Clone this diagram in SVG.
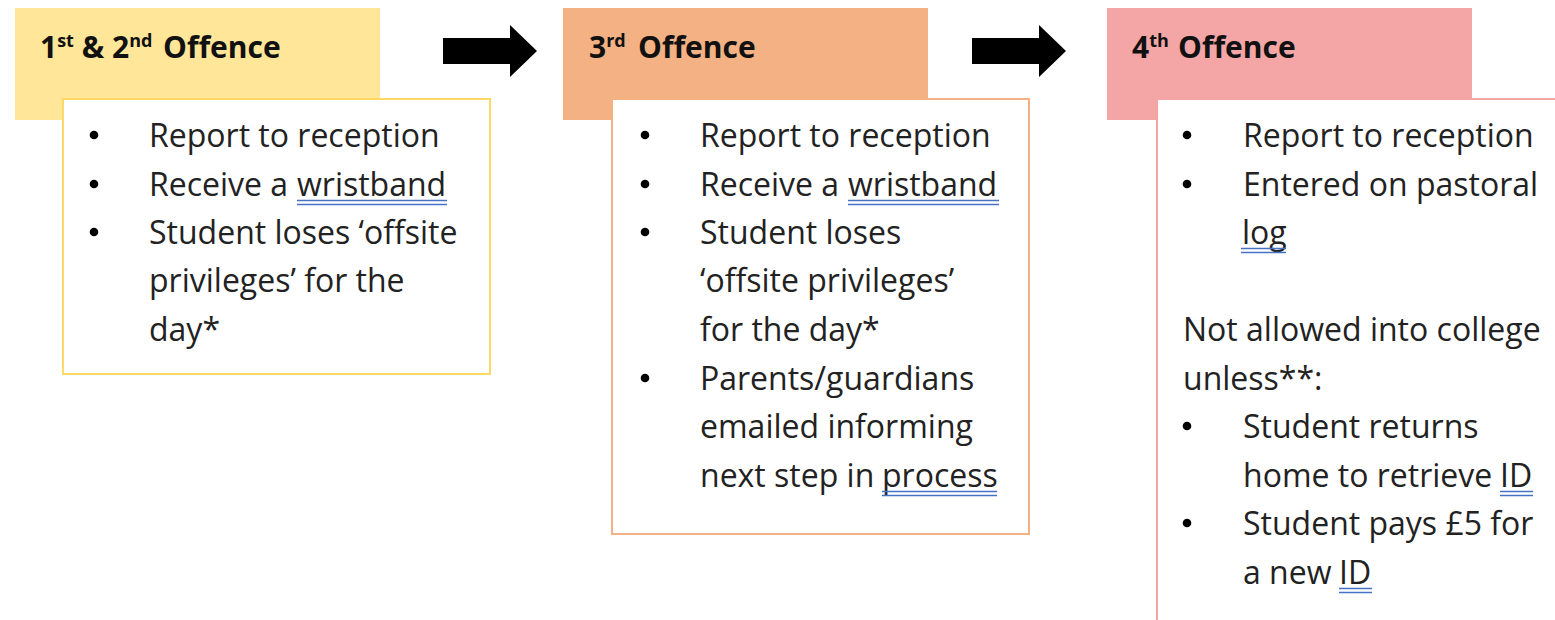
<svg xmlns="http://www.w3.org/2000/svg" width="1555" height="620" viewBox="0 0 1555 620">
<style>
.hd{font-family:"Open Sans","Liberation Sans",sans-serif;font-weight:bold;font-size:30px;fill:#111}
.sup{font-size:18px}
.t{font-family:"Open Sans","Liberation Sans",sans-serif;font-size:32px;fill:#222}
.ul{stroke:#4472C4;stroke-width:1.6;fill:none}
.arrow{fill:#000}
</style>
<defs>
<circle id="bullet" r="4.3" fill="#000"/>
</defs>
<rect width="1555" height="620" fill="#fff"/>
<g id="offence-1-2">
<rect x="15" y="8" width="365" height="112" fill="#FFE699"/>
<text class="hd" x="40" y="58">1<tspan class="sup" dy="-11">st</tspan><tspan dy="11"> &amp; 2</tspan><tspan class="sup" dy="-11">nd</tspan><tspan x="163" dy="11">Offence</tspan></text>
<rect x="63" y="99" width="427" height="275" fill="#fff" stroke="#FFD966" stroke-width="2"/>
<use href="#bullet" x="94" y="135"/>
<use href="#bullet" x="94" y="184"/>
<use href="#bullet" x="94" y="232"/>
<text class="t" x="149" y="147">Report to reception</text>
<text class="t" x="149" y="196">Receive a <tspan x="297">wristband</tspan></text>
<text class="t" x="149" y="244">Student loses ‘offsite</text>
<text class="t" x="149" y="292">privileges’ for the</text>
<text class="t" x="149" y="341">day*</text>
<line class="ul" x1="297" y1="200.5" x2="447" y2="200.5"/>
<line class="ul" x1="297" y1="204.5" x2="447" y2="204.5"/>
</g>
<g id="offence-3">
<rect x="563" y="8" width="365" height="112" fill="#F4B183"/>
<text class="hd" x="589" y="58">3<tspan class="sup" dy="-11">rd</tspan><tspan x="638" dy="11">Offence</tspan></text>
<rect x="612" y="99" width="417" height="435" fill="#fff" stroke="#F4B183" stroke-width="2"/>
<use href="#bullet" x="645" y="135"/>
<use href="#bullet" x="645" y="184"/>
<use href="#bullet" x="645" y="232"/>
<use href="#bullet" x="645" y="378"/>
<text class="t" x="700" y="147">Report to reception</text>
<text class="t" x="700" y="196">Receive a <tspan x="848">wristband</tspan></text>
<text class="t" x="700" y="244">Student loses</text>
<text class="t" x="700" y="292">‘offsite privileges’</text>
<text class="t" x="700" y="341">for the day*</text>
<text class="t" x="700" y="390">Parents/guardians</text>
<text class="t" x="700" y="438">emailed informing</text>
<text class="t" x="700" y="487">next step in <tspan x="882">process</tspan></text>
<line class="ul" x1="848" y1="200.5" x2="999" y2="200.5"/>
<line class="ul" x1="848" y1="204.5" x2="999" y2="204.5"/>
<line class="ul" x1="882" y1="491.5" x2="997" y2="491.5"/>
<line class="ul" x1="882" y1="495.5" x2="997" y2="495.5"/>
</g>
<g id="offence-4">
<rect x="1107" y="8" width="365" height="112" fill="#F4A6A6"/>
<text class="hd" x="1132" y="58">4<tspan class="sup" dy="-11">th</tspan><tspan x="1178" dy="11">Offence</tspan></text>
<rect x="1157" y="99" width="420" height="540" fill="#fff" stroke="#F4A6A6" stroke-width="2"/>
<use href="#bullet" x="1187" y="135"/>
<use href="#bullet" x="1187" y="184"/>
<use href="#bullet" x="1187" y="426"/>
<use href="#bullet" x="1187" y="523"/>
<text class="t" x="1243" y="147">Report to reception</text>
<text class="t" x="1243" y="196">Entered on pastoral</text>
<text class="t" x="1242" y="244">log</text>
<text class="t" x="1183" y="341">Not allowed into college</text>
<text class="t" x="1183" y="390">unless**:</text>
<text class="t" x="1243" y="438">Student returns</text>
<text class="t" x="1243" y="487">home to retrieve <tspan x="1500">ID</tspan></text>
<text class="t" x="1243" y="535">Student pays £5 for</text>
<text class="t" x="1243" y="584">a new <tspan x="1339">ID</tspan></text>
<line class="ul" x1="1241" y1="248.5" x2="1286" y2="248.5"/>
<line class="ul" x1="1241" y1="252.5" x2="1286" y2="252.5"/>
<line class="ul" x1="1500" y1="491.5" x2="1533" y2="491.5"/>
<line class="ul" x1="1500" y1="495.5" x2="1533" y2="495.5"/>
<line class="ul" x1="1339" y1="588.5" x2="1372" y2="588.5"/>
<line class="ul" x1="1339" y1="592.5" x2="1372" y2="592.5"/>
</g>
<g id="connectors">
<polygon class="arrow" points="443,38 510,38 510,25 537,51 510,77 510,64 443,64"/>
<polygon class="arrow" points="972,38 1039,38 1039,25 1066,51 1039,77 1039,64 972,64"/>
</g>
</svg>
